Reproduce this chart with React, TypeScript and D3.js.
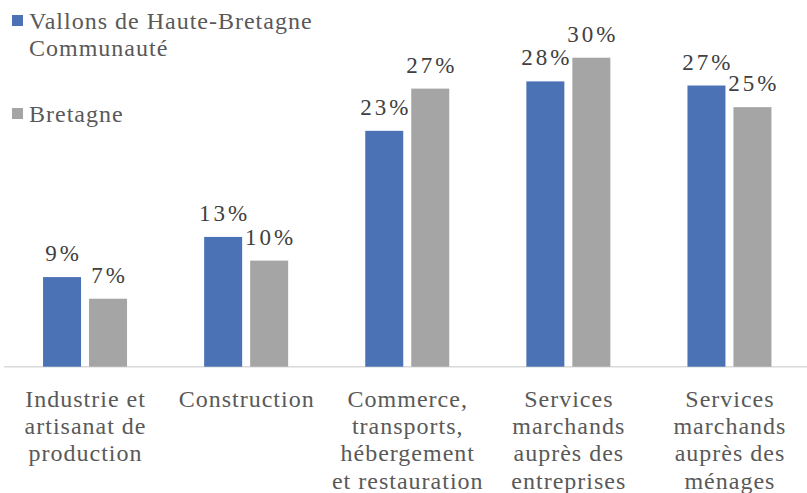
import React from "react";
import * as d3 from "d3";

const categories = [
  ["Industrie et", "artisanat de", "production"],
  ["Construction"],
  ["Commerce,", "transports,", "hébergement", "et restauration"],
  ["Services", "marchands", "auprès des", "entreprises"],
  ["Services", "marchands", "auprès des", "ménages"],
];
const seriesNames = ["Vallons de Haute-Bretagne Communauté", "Bretagne"];
const legendLines = [["Vallons de Haute-Bretagne", "Communauté"], ["Bretagne"]];
const vallons = [8.7, 12.6, 22.9, 27.7, 27.3];
const bretagne = [6.6, 10.3, 27.0, 30.0, 25.2];
const colors = ["#4a72b5", "#a5a5a5"];

const W = 807;
const H = 493;

export default function App() {
  const baseY = 366.7;
  const x0 = d3
    .scaleBand<number>()
    .domain(d3.range(categories.length))
    .range([4.5, 810])
    .padding(0);
  const x1 = d3.scaleBand<number>().domain([0, 1]).range([-42, 42]).paddingInner(0.174);
  const y = d3.scaleLinear().domain([0, 35]).range([baseY, baseY - 35 * 10.3]);
  const data = [vallons, bretagne];
  const serif = "'Liberation Serif', 'Times New Roman', serif";
  const legendY = [29, 122];

  return (
    <svg
      width={W}
      height={H}
      style={{ position: "fixed", left: 0, top: 0, background: "#fff" }}
    >
      <title>{seriesNames.join(" / ")}</title>
      <line x1={4} x2={807} y1={baseY} y2={baseY} stroke="#d9d9d9" strokeWidth={1.5} />
      {data.map((vals, s) =>
        vals.map((v, i) => {
          const cx = x0(i)! + x0.bandwidth() / 2;
          const bx = cx + x1(s)!;
          const bw = x1.bandwidth();
          return (
            <g key={`${s}-${i}`}>
              <rect x={bx} y={y(v)} width={bw} height={baseY - y(v)} fill={colors[s]} />
              <text
                x={bx + bw / 2 + 1.5}
                y={y(v) - 16}
                textAnchor="middle"
                fontFamily={serif}
                fontSize={23}
                letterSpacing={3}
                fill="#404040"
              >
                {Math.round(v)}%
              </text>
            </g>
          );
        })
      )}
      {categories.map((lines, i) => {
        const cx = x0(i)! + x0.bandwidth() / 2 + 0.5;
        return (
          <text
            key={i}
            x={cx}
            y={407}
            textAnchor="middle"
            fontFamily={serif}
            fontSize={24}
            letterSpacing={1}
            fill="#595959"
          >
            {lines.map((l, k) => (
              <tspan key={k} x={cx} dy={k === 0 ? 0 : 27.2}>
                {l}
              </tspan>
            ))}
          </text>
        );
      })}
      <g fontFamily={serif} fontSize={24} letterSpacing={1} fill="#595959">
        {legendLines.map((lines, s) => (
          <g key={s}>
            <rect x={12} y={legendY[s] - 14} width={11} height={11} fill={colors[s]} />
            <text x={29} y={legendY[s]}>
              {lines.map((l, k) => (
                <tspan key={k} x={29} dy={k === 0 ? 0 : 27}>
                  {l}
                </tspan>
              ))}
            </text>
          </g>
        ))}
      </g>
    </svg>
  );
}
